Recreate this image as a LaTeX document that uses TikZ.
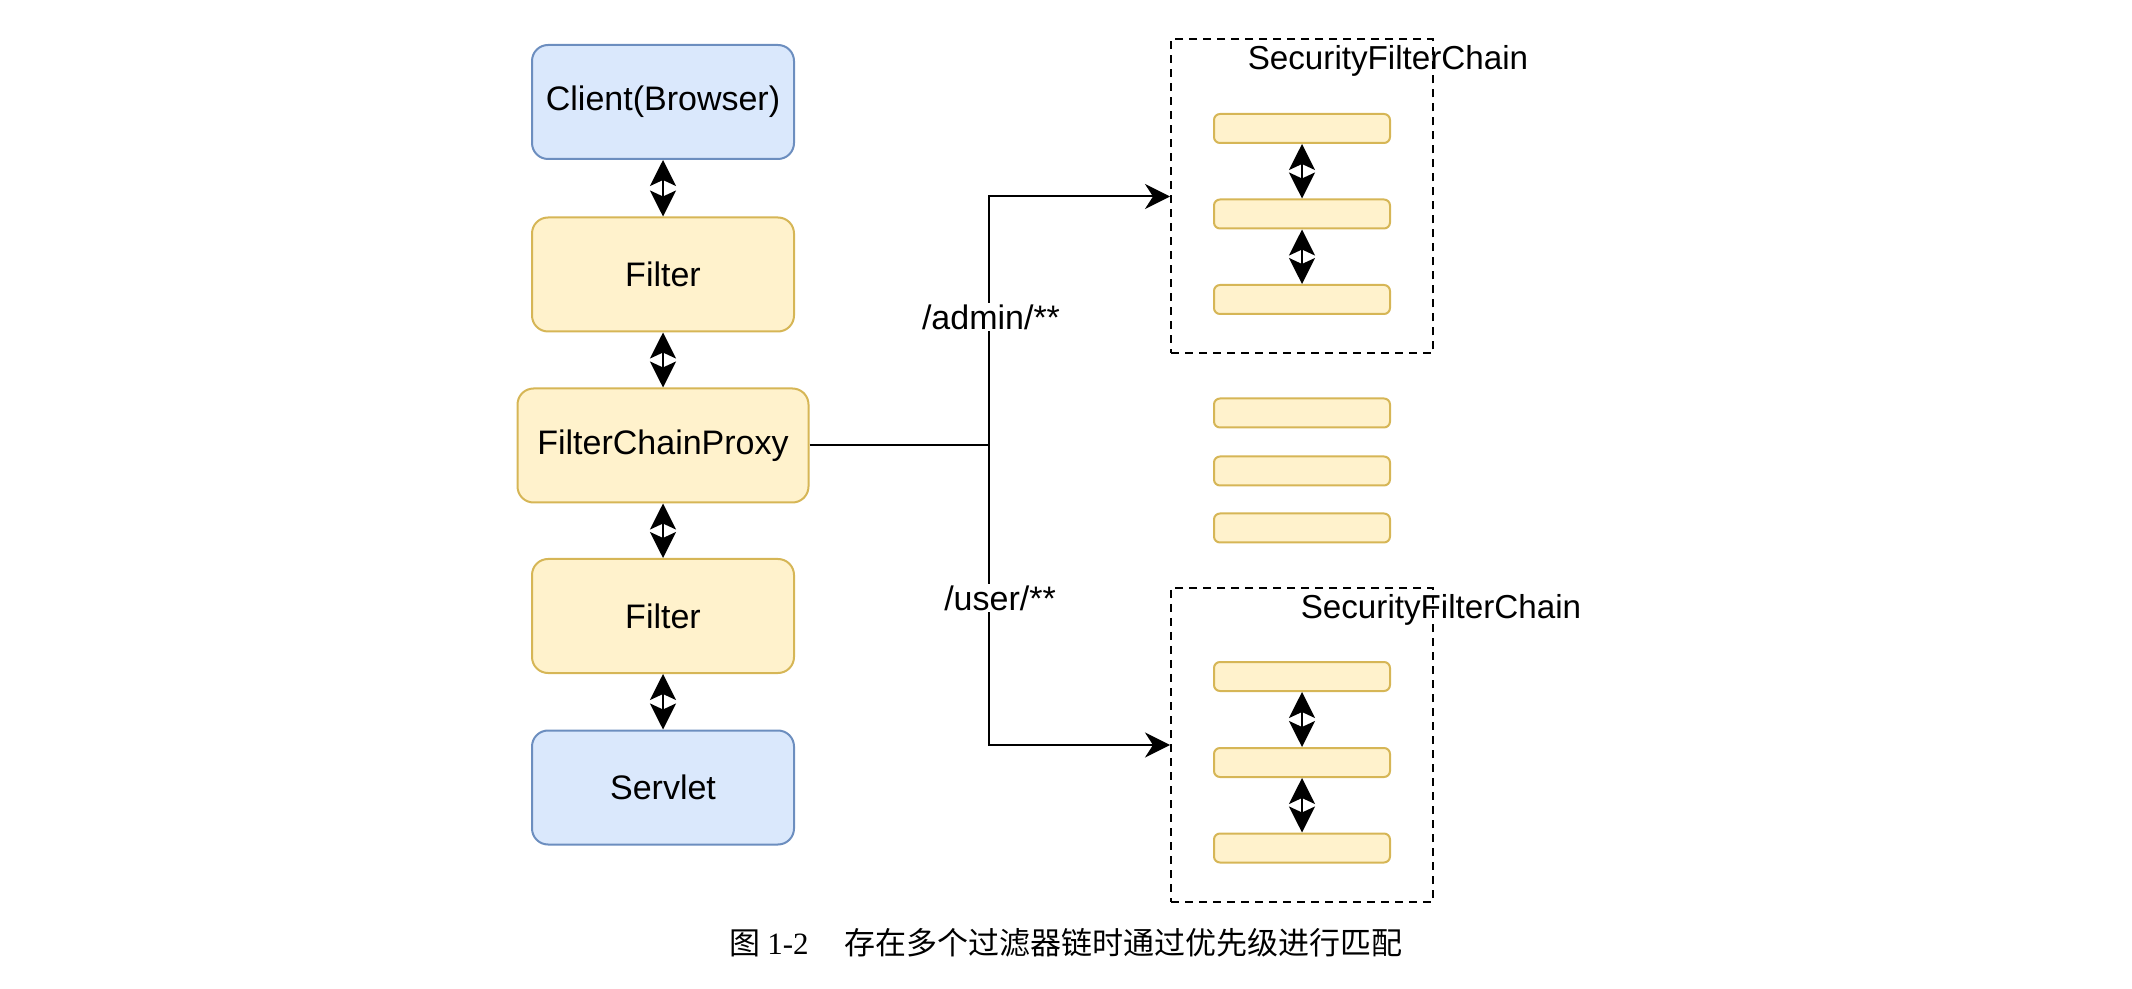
\documentclass[tikz,border=0pt]{standalone}
\usepackage{fontspec}
\setmainfont{Liberation Sans}
\newfontfamily\cjk{Noto Sans CJK SC}
\newfontfamily\capnum{Liberation Serif}
\usetikzlibrary{arrows.meta}
\definecolor{bluefill}{HTML}{DAE8FC}
\definecolor{blueline}{HTML}{6C8EBF}
\definecolor{yelfill}{HTML}{FFF2CC}
\definecolor{yelline}{HTML}{D6B656}
\tikzset{
  box/.style={rounded corners=8pt, line width=1pt, minimum width=131pt, minimum height=57pt, inner sep=0pt, font=\fontsize{17}{20}\selectfont},
  bluebox/.style={box, draw=blueline, fill=bluefill},
  yelbox/.style={box, draw=yelline, fill=yelfill},
  bar/.style={rounded corners=3pt, line width=1pt, draw=yelline, fill=yelfill, minimum width=88pt, minimum height=14.5pt, inner sep=0pt},
  chainbox/.style={draw=black, line width=1pt, dash pattern=on 4pt off 3pt, minimum width=131pt, minimum height=157pt, inner sep=0pt},
  biarrow/.style={line width=1pt, {Stealth[length=13pt,width=13pt,inset=3pt]}-{Stealth[length=13pt,width=13pt,inset=3pt]}},
  conn/.style={line width=1pt},
  connarrow/.style={line width=1pt, -{Stealth[length=12.5pt,width=12.5pt,inset=4pt]}},
  lbl/.style={fill=white, inner sep=1pt, font=\fontsize{17}{20}\selectfont},
  title/.style={inner sep=0pt, font=\fontsize{16.6}{20}\selectfont}
}
\begin{document}
\begin{tikzpicture}[x=0.5pt,y=-0.5pt]
\useasboundingbox (0,0) rectangle (2132,989);
% left column
\node[bluebox] (client) at (663,102) {Client(Browser)};
\node[yelbox] (filter1) at (663,274.5) {Filter};
\node[yelbox, minimum width=145.5pt] (proxy) at (663,445.5) {FilterChainProxy};
\node[yelbox] (filter2) at (663,616) {Filter};
\node[bluebox] (servlet) at (663,787.5) {Servlet};
\draw[biarrow] (client.south) -- (filter1.north);
\draw[biarrow] (filter1.south) -- (proxy.north);
\draw[biarrow] (proxy.south) -- (filter2.north);
\draw[biarrow] (filter2.south) -- (servlet.north);
% top chain
\node[chainbox] (sfcA) at (1302,196.5) {};
\node[title] (tA) at (1388,61) {SecurityFilterChain};
\node[bar] (a1) at (1302,128.5) {};
\node[bar] (a2) at (1302,214) {};
\node[bar] (a3) at (1302,299.5) {};
\draw[biarrow] (a1.south) -- (a2.north);
\draw[biarrow] (a2.south) -- (a3.north);
% middle bars
\node[bar] (m1) at (1302,413) {};
\node[bar] (m2) at (1302,471) {};
\node[bar] (m3) at (1302,528) {};
% bottom chain
\node[chainbox] (sfcB) at (1302,745) {};
\node[title] (tB) at (1441,610) {SecurityFilterChain};
\node[bar] (b1) at (1302,676.5) {};
\node[bar] (b2) at (1302,762.5) {};
\node[bar] (b3) at (1302,848) {};
\draw[biarrow] (b1.south) -- (b2.north);
\draw[biarrow] (b2.south) -- (b3.north);
% routing
\coordinate (j) at (989,445.5);
\draw[conn] (proxy.east) -- (j);
\draw[connarrow] (j) |- (sfcA.west);
\draw[connarrow] (j) |- (sfcB.west);
\node[lbl] (ladmin) at (991,317) {/admin/**};
\node[lbl] (luser) at (1000,598) {/user/**};
% caption
\node[anchor=west, inner sep=0pt, font=\fontsize{15.5}{18}\selectfont] (cap) at (729,943)
  {{\cjk 图}\hspace{3.5pt}{\capnum 1-2}\hspace{18pt}{\cjk 存在多个过滤器链时通过优先级进行匹配}};
\end{tikzpicture}
\end{document}
